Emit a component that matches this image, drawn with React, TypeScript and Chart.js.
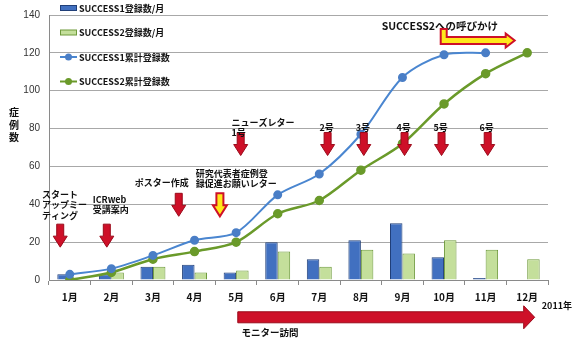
import React, { useEffect, useRef } from "react";
import { Chart, registerables } from "chart.js";

Chart.register(...registerables);

const months = ["1月", "2月", "3月", "4月", "5月", "6月", "7月", "8月", "9月", "10月", "11月", "12月"];
const s1Monthly = [3, 3, 7, 8, 4, 20, 11, 21, 30, 12, 1, null];
const s2Monthly = [0, 4, 7, 4, 5, 15, 7, 16, 14, 21, 16, 11];
const s1Cumulative = [3, 6, 13, 21, 25, 45, 56, 77, 107, 119, 120, null];
const s2Cumulative = [0, 4, 11, 15, 20, 35, 42, 58, 72, 93, 109, 120];
const yTicks = [0, 20, 40, 60, 80, 100, 120, 140];

const seriesNames = ["SUCCESS1登録数/月", "SUCCESS2登録数/月", "SUCCESS1累計登録数", "SUCCESS2累計登録数"];

// annotations in data space: x = month index (fractional), y = value
const downArrows = [
  { x: -0.23, y: 29.5, yellow: false },
  { x: 0.89, y: 29.5, yellow: false },
  { x: 2.62, y: 45.8, yellow: false },
  { x: 3.61, y: 45.8, yellow: true },
  { x: 4.11, y: 77.9, yellow: false },
  { x: 6.2, y: 77.9, yellow: false },
  { x: 7.07, y: 77.9, yellow: false },
  { x: 8.05, y: 77.9, yellow: false },
  { x: 8.94, y: 77.9, yellow: false },
  { x: 10.05, y: 77.9, yellow: false },
];
const issueLabels = ["2号", "3号", "4号", "5号", "6号"];
const issueArrowStart = 5;
const notes = [
  { x: -0.67, y: 45.3, lines: ["スタート", "アップミー", "ティング"] },
  { x: 0.55, y: 42.6, lines: ["ICRweb", "受講案内"] },
  { x: 1.56, y: 51.6, lines: ["ポスター作成"] },
  { x: 3.03, y: 56.3, lines: ["研究代表者症例登", "録促進お願いレター"] },
  { x: 3.89, y: 83.2, lines: ["ニューズレター", "1号"] },
];
const callText = "SUCCESS2への呼びかけ";
const callPos = { x: 7.5, y: 134.2 };
const callArrow = { x: 8.92, y: 132.6 };
const monitorText = "モニター訪問";
const monitorArrow = { x0: 4.04, x1: 11.18, y: -19.7 };
const monitorLabel = { x: 4.13, y: -27.9 };
const yearText = "2011年";
const yearPos = { x: 11.35, y: -13.7 };
const yTitle = ["症", "例", "数"];

const BLUE_BAR = "#4170C0";
const BLUE_BAR_BORDER = "#203F78";
const GREEN_BAR = "#C4DF9B";
const GREEN_BAR_BORDER = "#6E9A3B";
const BLUE_LINE = "#4A86D0";
const GREEN_LINE = "#6A9A2A";
const RED = "#CE1028";
const RED_DARK = "#9A0A1A";
const YELLOW = "#FFE81A";
const JP = '"Noto Sans CJK JP", "Noto Sans", sans-serif';

function downArrow(ctx: CanvasRenderingContext2D, cx: number, top: number, yellow: boolean) {
  const sw = 3.5, hw = 7, sh = 12, hh = 11;
  ctx.beginPath();
  ctx.moveTo(cx - sw, top);
  ctx.lineTo(cx + sw, top);
  ctx.lineTo(cx + sw, top + sh);
  ctx.lineTo(cx + hw, top + sh);
  ctx.lineTo(cx, top + sh + hh);
  ctx.lineTo(cx - hw, top + sh);
  ctx.lineTo(cx - sw, top + sh);
  ctx.closePath();
  ctx.fillStyle = yellow ? YELLOW : RED;
  ctx.fill();
  ctx.lineWidth = yellow ? 2 : 1;
  ctx.strokeStyle = yellow ? RED : RED_DARK;
  ctx.stroke();
}

const annotationPlugin = {
  id: "annotations",
  afterDraw(chart: any) {
    const ctx: CanvasRenderingContext2D = chart.ctx;
    const xs = chart.scales.x;
    const ys = chart.scales.y;
    const x0 = xs.getPixelForValue(0);
    const step = xs.getPixelForValue(1) - x0;
    const px = (i: number) => x0 + i * step;
    const py = (v: number) => ys.getPixelForValue(v);
    const area = chart.chartArea;
    ctx.save();

    // legend
    const legendOrder = [2, 3, 0, 1];
    ctx.font = `bold 9px ${JP}`;
    ctx.textBaseline = "middle";
    ctx.textAlign = "left";
    legendOrder.forEach((di, k) => {
      const ds = chart.data.datasets[di];
      const cy = area.top - 7 + k * 24.5;
      const lx = area.left + 11;
      if (ds.type === "bar") {
        ctx.fillStyle = ds.backgroundColor;
        ctx.fillRect(lx, cy - 2.5, 17, 5);
        ctx.strokeStyle = ds.borderColor;
        ctx.lineWidth = 1;
        ctx.strokeRect(lx + 0.5, cy - 2.5, 16, 5);
      } else {
        ctx.strokeStyle = ds.borderColor;
        ctx.lineWidth = 2;
        ctx.beginPath();
        ctx.moveTo(lx, cy);
        ctx.lineTo(lx + 17, cy);
        ctx.stroke();
        ctx.beginPath();
        ctx.arc(lx + 8.5, cy, 3.5, 0, Math.PI * 2);
        ctx.fillStyle = ds.pointBackgroundColor;
        ctx.fill();
      }
      ctx.fillStyle = "#111";
      ctx.fillText(ds.label, lx + 19, cy + 0.5);
    });

    // y title
    ctx.font = `bold 10px ${JP}`;
    ctx.textAlign = "center";
    ctx.fillStyle = "#111";
    yTitle.forEach((c, k) => ctx.fillText(c, 14, py(82) + (k - 1) * 12.5));

    // down arrows
    downArrows.forEach((a) => downArrow(ctx, px(a.x), py(a.y), a.yellow));

    // notes
    ctx.font = `bold 9px ${JP}`;
    ctx.textAlign = "left";
    ctx.fillStyle = "#111";
    notes.forEach((n) => {
      n.lines.forEach((t, k) => ctx.fillText(t, px(n.x), py(n.y) + k * 10.5));
    });
    ctx.textAlign = "center";
    issueLabels.forEach((t, k) => {
      const a = downArrows[issueArrowStart + k];
      ctx.fillText(t, px(a.x) - 1, py(a.y) - 5);
    });

    // SUCCESS2 call-out
    ctx.font = `bold 10.5px ${JP}`;
    ctx.textAlign = "left";
    ctx.fillText(callText, px(callPos.x), py(callPos.y));
    const lx = px(callArrow.x), ly = py(callArrow.y);
    const tipX = px(monitorArrow.x1) - 20;
    ctx.beginPath();
    ctx.moveTo(lx, ly);
    ctx.lineTo(lx + 6, ly);
    ctx.lineTo(lx + 6, ly + 8);
    ctx.lineTo(tipX - 9, ly + 8);
    ctx.lineTo(tipX - 9, ly + 4.5);
    ctx.lineTo(tipX, ly + 11.5);
    ctx.lineTo(tipX - 9, ly + 18.5);
    ctx.lineTo(tipX - 9, ly + 15);
    ctx.lineTo(lx, ly + 15);
    ctx.closePath();
    ctx.fillStyle = YELLOW;
    ctx.fill();
    ctx.strokeStyle = RED;
    ctx.lineWidth = 2;
    ctx.stroke();

    // monitor arrow
    const mx0 = px(monitorArrow.x0), mx1 = px(monitorArrow.x1), my = py(monitorArrow.y);
    ctx.beginPath();
    ctx.moveTo(mx0, my - 5.5);
    ctx.lineTo(mx1 - 11, my - 5.5);
    ctx.lineTo(mx1 - 11, my - 11.5);
    ctx.lineTo(mx1, my);
    ctx.lineTo(mx1 - 11, my + 11.5);
    ctx.lineTo(mx1 - 11, my + 5.5);
    ctx.lineTo(mx0, my + 5.5);
    ctx.closePath();
    ctx.fillStyle = RED;
    ctx.fill();
    ctx.strokeStyle = RED_DARK;
    ctx.lineWidth = 1;
    ctx.stroke();
    ctx.fillStyle = "#111";
    ctx.font = `bold 9.5px ${JP}`;
    ctx.textAlign = "left";
    ctx.fillText(monitorText, px(monitorLabel.x), py(monitorLabel.y));
    ctx.font = `bold 9px ${JP}`;
    ctx.fillText(yearText, px(yearPos.x), py(yearPos.y));

    ctx.restore();
  },
};

export default function App() {
  const ref = useRef<HTMLCanvasElement>(null);
  useEffect(() => {
    if (!ref.current) return;
    const chart = new Chart(ref.current, {
      type: "bar",
      data: {
        labels: months,
        datasets: [
          {
            type: "line",
            label: seriesNames[2],
            data: s1Cumulative,
            borderColor: BLUE_LINE,
            backgroundColor: BLUE_LINE,
            pointBackgroundColor: "#4A7EC6",
            pointBorderColor: "#4A7EC6",
            pointRadius: 3.5,
            borderWidth: 2,
            tension: 0.3,
            order: 0,
          } as any,
          {
            type: "line",
            label: seriesNames[3],
            data: s2Cumulative,
            borderColor: GREEN_LINE,
            backgroundColor: GREEN_LINE,
            pointBackgroundColor: GREEN_LINE,
            pointBorderColor: GREEN_LINE,
            pointRadius: 3.5,
            borderWidth: 2.5,
            tension: 0.3,
            order: 0,
          } as any,
          {
            type: "bar",
            label: seriesNames[0],
            data: s1Monthly,
            backgroundColor: BLUE_BAR,
            borderColor: BLUE_BAR_BORDER,
            borderWidth: 1,
            barPercentage: 1,
            categoryPercentage: 0.6,
            order: 1,
          } as any,
          {
            type: "bar",
            label: seriesNames[1],
            data: s2Monthly,
            backgroundColor: GREEN_BAR,
            borderColor: GREEN_BAR_BORDER,
            borderWidth: 1,
            barPercentage: 1,
            categoryPercentage: 0.6,
            order: 1,
          } as any,
        ],
      },
      options: {
        responsive: false,
        animation: false,
        layout: { padding: { left: 0, top: 14, right: 25, bottom: 0 } },
        plugins: { legend: { display: false }, tooltip: { enabled: false } },
        scales: {
          x: {
            grid: { drawOnChartArea: false, drawTicks: true, tickLength: 5, color: "#8a8a8a" },
            border: { display: true, color: "#8a8a8a" },
            ticks: { font: { family: JP, size: 10, weight: "bold" }, color: "#111", padding: 6 },
            afterFit: (s: any) => { s.height = 61; },
          },
          y: {
            min: 0,
            max: 140,
            afterBuildTicks: (s: any) => { s.ticks = yTicks.map((v) => ({ value: v })); },
            grid: { color: "#a8a8a8", drawTicks: false },
            border: { display: true, color: "#8a8a8a" },
            ticks: { font: { family: '"Liberation Sans", Arial, sans-serif', size: 10 }, color: "#333", padding: 9 },
            afterFit: (s: any) => { s.width = 49; },
          },
        },
      },
      plugins: [annotationPlugin],
    });
    return () => chart.destroy();
  }, []);
  return (
    <div style={{ position: "fixed", left: 0, top: 0, width: 573, height: 341, background: "#fff" }}>
      <canvas ref={ref} width={573} height={341} />
    </div>
  );
}
